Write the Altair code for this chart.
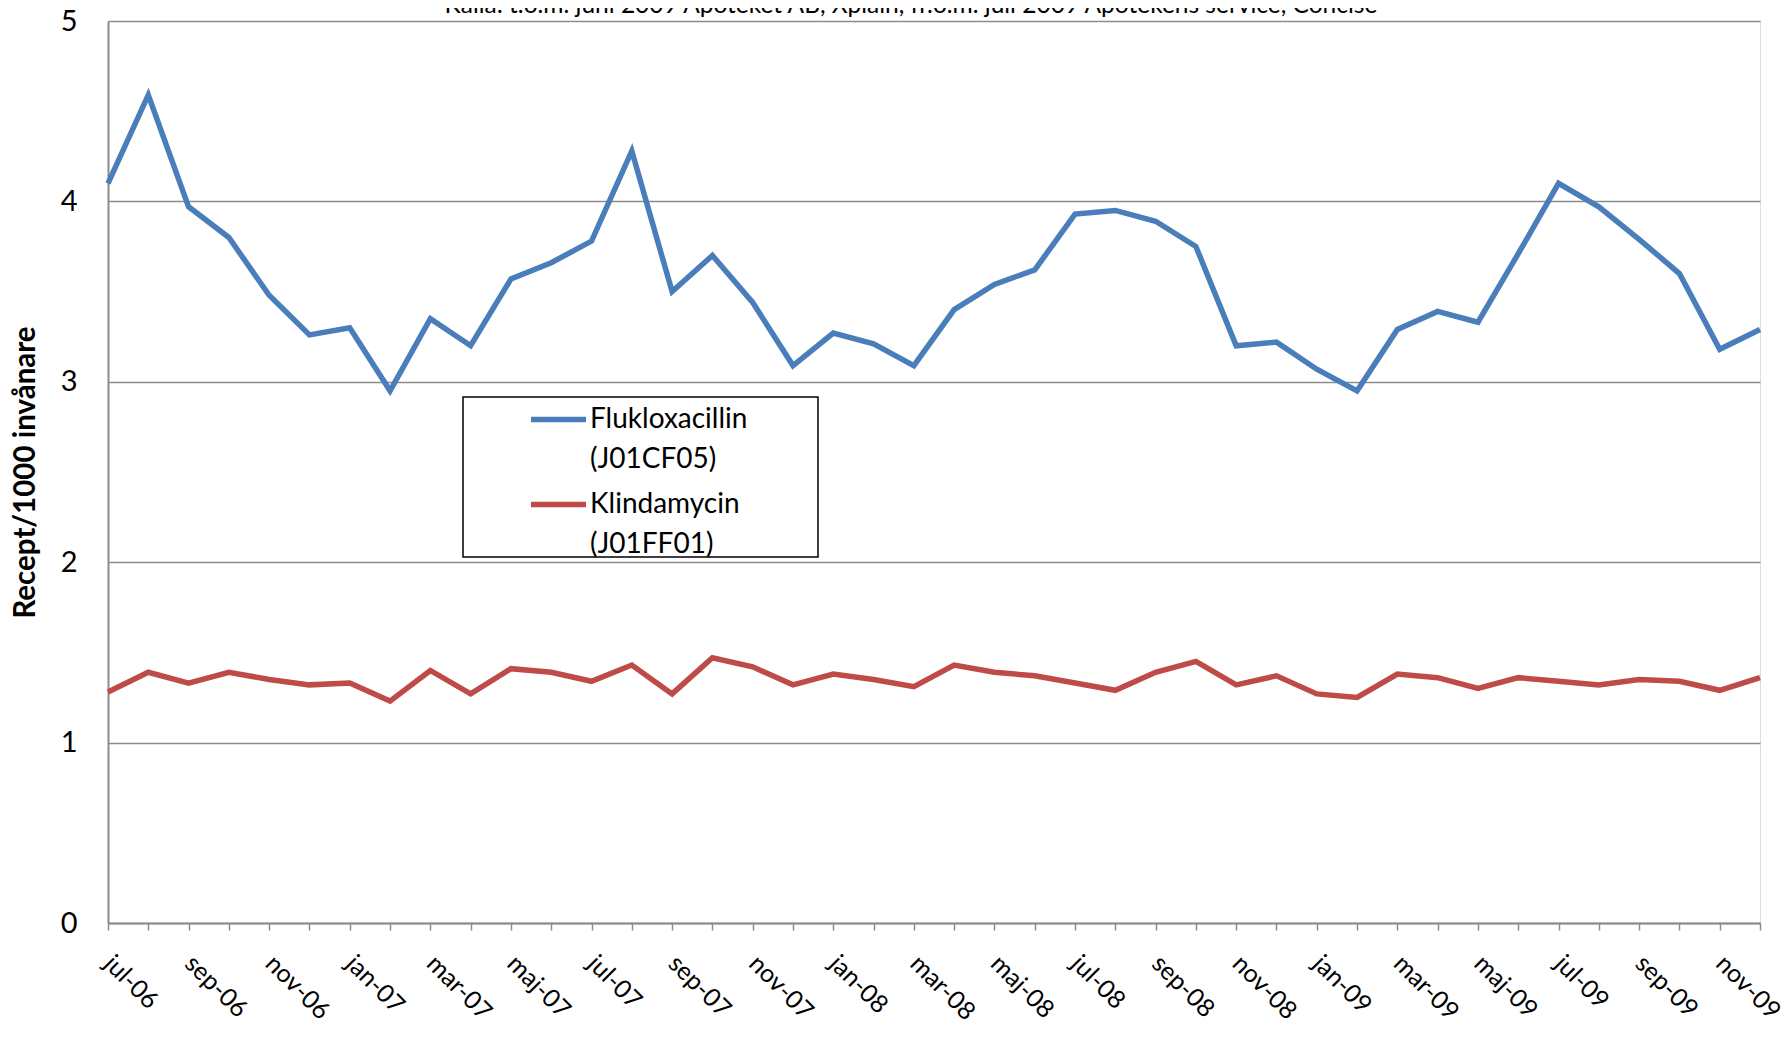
import altair as alt
import pandas as pd

months = ["jul-06", "aug-06", "sep-06", "okt-06", "nov-06", "dec-06",
          "jan-07", "feb-07", "mar-07", "apr-07", "maj-07", "jun-07",
          "jul-07", "aug-07", "sep-07", "okt-07", "nov-07", "dec-07",
          "jan-08", "feb-08", "mar-08", "apr-08", "maj-08", "jun-08",
          "jul-08", "aug-08", "sep-08", "okt-08", "nov-08", "dec-08",
          "jan-09", "feb-09", "mar-09", "apr-09", "maj-09", "jun-09",
          "jul-09", "aug-09", "sep-09", "okt-09", "nov-09", "dec-09"]

flukloxacillin = [4.10, 4.59, 3.97, 3.80, 3.48, 3.26, 3.30, 2.95, 3.35, 3.20,
                  3.57, 3.66, 3.78, 4.28, 3.50, 3.70, 3.44, 3.09, 3.27, 3.21,
                  3.09, 3.40, 3.54, 3.62, 3.93, 3.95, 3.89, 3.75, 3.20, 3.22,
                  3.07, 2.95, 3.29, 3.39, 3.33, 3.71, 4.10, 3.97, 3.79, 3.60,
                  3.18, 3.29]

klindamycin = [1.28, 1.39, 1.33, 1.39, 1.35, 1.32, 1.33, 1.23, 1.40, 1.27,
               1.41, 1.39, 1.34, 1.43, 1.27, 1.47, 1.42, 1.32, 1.38, 1.35,
               1.31, 1.43, 1.39, 1.37, 1.33, 1.29, 1.39, 1.45, 1.32, 1.37,
               1.27, 1.25, 1.38, 1.36, 1.30, 1.36, 1.34, 1.32, 1.35, 1.34,
               1.29, 1.36]

series_names = ["Flukloxacillin (J01CF05)", "Klindamycin (J01FF01)"]
series_colors = ["#4A7EBB", "#BE4B48"]
y_ticks = [0, 1, 2, 3, 4, 5]

title_text = "Källa: t.o.m. juni 2009 Apoteket AB, Xplain, fr.o.m. juli 2009 Apotekens service, Concise"
y_title = "Recept/1000 invånare"

FONT = "Lato"

rows = []
for i, m in enumerate(months):
    rows.append({"idx": i, "month": m, "series": series_names[0], "value": flukloxacillin[i]})
    rows.append({"idx": i, "month": m, "series": series_names[1], "value": klindamycin[i]})
df = pd.DataFrame(rows)

month_array = "[" + ",".join("'" + m + "'" for m in months) + "]"
x_label_expr = "datum.value % 2 == 0 ? " + month_array + "[datum.value] : ''"

W, H = 1652, 902

lines = alt.Chart(df).mark_line(strokeWidth=5.5, strokeJoin="miter").encode(
    x=alt.X("idx:Q",
            scale=alt.Scale(domain=[0, len(months) - 1], nice=False, zero=False),
            axis=alt.Axis(values=list(range(len(months))), labelExpr=x_label_expr,
                          title=None, grid=False, ticks=True, tickSize=7,
                          tickColor="#8c8c8c", tickWidth=1.5,
                          domainColor="#8c8c8c", domainWidth=2,
                          labelAngle=45, labelAlign="left", labelBaseline="middle",
                          labelPadding=29, labelFontSize=25, labelFont=FONT,
                          labelColor="black", labelOverlap=False, labelFlush=False,
                          labelBound=False)),
    y=alt.Y("value:Q",
            scale=alt.Scale(domain=[0, 5], nice=False),
            axis=alt.Axis(values=y_ticks, title=y_title, grid=True,
                          gridColor="#8c8c8c", gridWidth=1.5, ticks=False,
                          domainColor="#8c8c8c", domainWidth=2,
                          labelPadding=31, labelFontSize=29, labelFont=FONT,
                          labelColor="black",
                          titleFont=FONT, titleFontSize=29.5, titleFontWeight="bold",
                          titleColor="black", titleAngle=270, titleX=-83, titleY=H / 2,
                          titleAlign="center", titleBaseline="middle")),
    color=alt.Color("series:N",
                    scale=alt.Scale(domain=series_names, range=series_colors),
                    legend=alt.Legend(title=None, orient="none", legendX=420, legendY=368,
                                      symbolType="stroke", symbolSize=3025,
                                      symbolStrokeWidth=5.5, labelFontSize=28,
                                      labelFont=FONT, labelColor="black",
                                      labelExpr="split(datum.label, ' ')",
                                      labelOffset=1, labelLimit=400, padding=0,
                                      rowPadding=-6)),
)

box = alt.Chart(pd.DataFrame({"a": [0]})).mark_rect(
    fill="white", stroke="black", strokeWidth=1.5
).encode(x=alt.value(355), x2=alt.value(710), y=alt.value(376), y2=alt.value(536))

source_title = alt.Chart(pd.DataFrame({"t": [title_text]})).mark_text(
    font=FONT, fontSize=24.5, color="black", align="center", baseline="alphabetic"
).encode(text="t:N", x=alt.value(803), y=alt.value(-8))

chart = alt.layer(box, lines, source_title).properties(
    width=W, height=H,
    autosize=alt.AutoSizeParams(type="none"),
    padding={"left": 100, "top": 13, "right": 24, "bottom": 105},
).configure_view(stroke="#8c8c8c", strokeWidth=2).configure(
    style={"guide-label": {"lineHeight": 40}}
)

chart.save("out.html", embed_options={"renderer": "svg", "actions": False})
